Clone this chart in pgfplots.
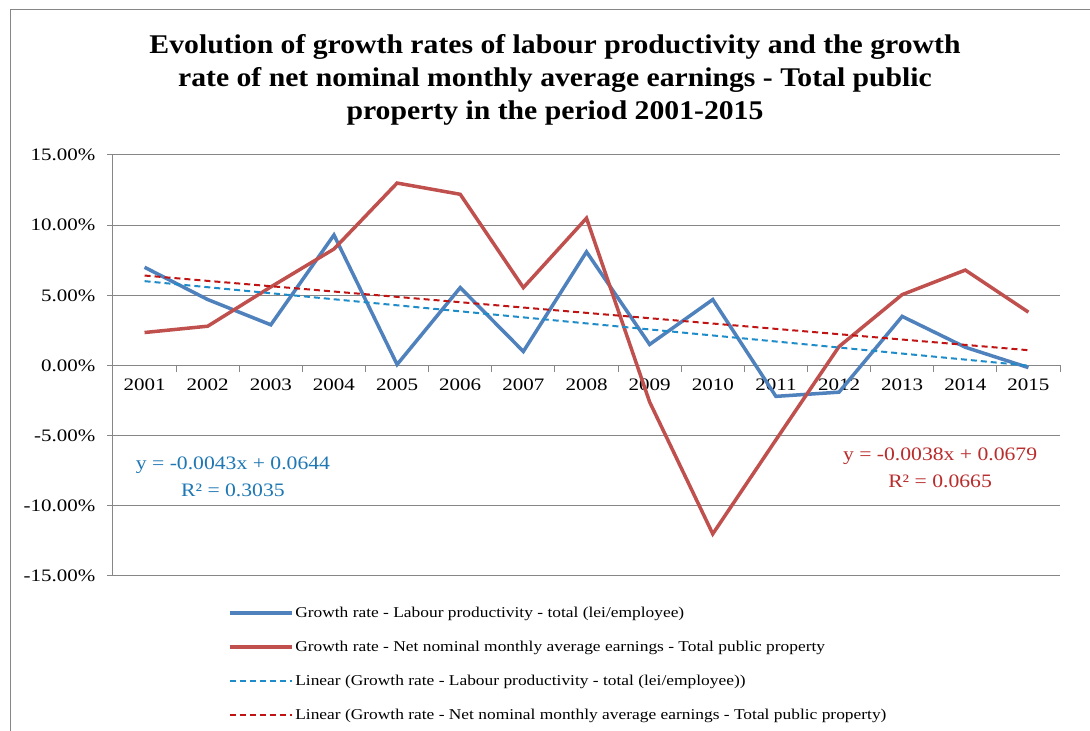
\documentclass[border=0pt]{standalone}
\usepackage{fontspec}
\setmainfont{Liberation Serif}
\newfontfamily\titlefont{Liberation Serif}[FakeStretch=1.1]
\newfontfamily\tickfont{Liberation Serif}[FakeStretch=1.2]
\newfontfamily\eqfont{Liberation Serif}[FakeStretch=1.14]
\newfontfamily\legfont{Liberation Serif}[FakeStretch=1.16]
\usepackage{pgfplots}
\pgfplotsset{compat=1.18}
\definecolor{sblue}{RGB}{79,129,189}
\definecolor{sred}{RGB}{192,80,77}
\definecolor{tblue}{RGB}{30,140,200}
\definecolor{tred}{RGB}{192,20,20}
\definecolor{eqblue}{RGB}{31,120,180}
\definecolor{eqred}{RGB}{185,45,45}
\definecolor{gridc}{RGB}{134,134,134}
\begin{document}
\begin{tikzpicture}[x=1pt,y=1pt]
\path[use as bounding box] (0,0) rectangle (1090,731);
\fill[white] (0,0) rectangle (1090,731);
\draw[gridc,line width=1pt] (10,0) -- (10,721) -- (1090,721);
\node[font=\titlefont\fontsize{27}{33}\selectfont\bfseries, align=center] at (555,651) {Evolution of growth rates of labour productivity and the growth\\rate of net nominal monthly average earnings - Total public\\property in the period 2001-2015};
\begin{axis}[
  at={(113pt,155pt)}, anchor=south west,
  scale only axis, width=947pt, height=421pt,
  xmin=0.5, xmax=15.5, ymin=-15, ymax=15,
  axis x line*=middle, axis y line*=left,
  hide obscured x ticks=false,
  axis line style={gridc, line width=1pt},
  ymajorgrids, grid style={gridc, line width=1pt},
  tick align=outside, major tick length=6pt,
  tick style={gridc, line width=1pt},
  xtick={0.5,1.5,...,15.5}, x tick label as interval,
  xticklabels={2001,2002,2003,2004,2005,2006,2007,2008,2009,2010,2011,2012,2013,2014,2015},
  ytick={-15,-10,-5,0,5,10,15},
  yticklabel={\pgfmathprintnumber[fixed,fixed zerofill,precision=2]{\tick}\%},
  /pgf/number format/assume math mode=true,
  tick label style={font=\tickfont\fontsize{17.5}{20}\selectfont, text=black},
  xticklabel style={yshift=-4pt},
  yticklabel style={xshift=-8pt},
  legend style={at={(axis description cs:0.121,-0.069)}, anchor=north west, draw=none, fill=none,
    font=\legfont\fontsize{15}{18}\selectfont, row sep=18pt, inner sep=0pt},
  legend cell align=left,
  legend image code/.code={\draw[#1] (0pt,0pt) -- (62pt,0pt);},
]
\addplot[sblue, line width=3.5pt] coordinates {
(1,7.0) (2,4.7) (3,2.9) (4,9.3) (5,0.07) (6,5.55) (7,1.0) (8,8.1) (9,1.5) (10,4.7) (11,-2.2) (12,-1.9) (13,3.5) (14,1.3) (15,-0.15)};
\addlegendentry{Growth rate - Labour productivity - total (lei/employee)}
\addplot[sred, line width=3.5pt] coordinates {
(1,2.35) (2,2.8) (3,5.6) (4,8.3) (5,13.0) (6,12.2) (7,5.55) (8,10.5) (9,-2.6) (10,-12.0) (11,-5.3) (12,1.35) (13,5.05) (14,6.8) (15,3.8)};
\addlegendentry{Growth rate - Net nominal monthly average  earnings - Total public property}
\addplot[tblue, line width=2pt, dash pattern=on 6pt off 4pt] coordinates {(1,6.01) (15,-0.01)};
\addlegendentry{Linear (Growth rate - Labour productivity - total (lei/employee))}
\addplot[tred, line width=2pt, dash pattern=on 6pt off 4pt] coordinates {(1,6.41) (15,1.09)};
\addlegendentry{Linear (Growth rate - Net nominal monthly average  earnings - Total public property)}
\node[text=eqblue, font=\eqfont\fontsize{19}{27}\selectfont, align=center] at (axis cs:2.4,-7.9) {y = -0.0043x + 0.0644\\R² = 0.3035};
\node[text=eqred, font=\eqfont\fontsize{19}{27}\selectfont, align=center] at (axis cs:13.6,-7.26) {y = -0.0038x + 0.0679\\R² = 0.0665};
\end{axis}
\end{tikzpicture}
\end{document}
